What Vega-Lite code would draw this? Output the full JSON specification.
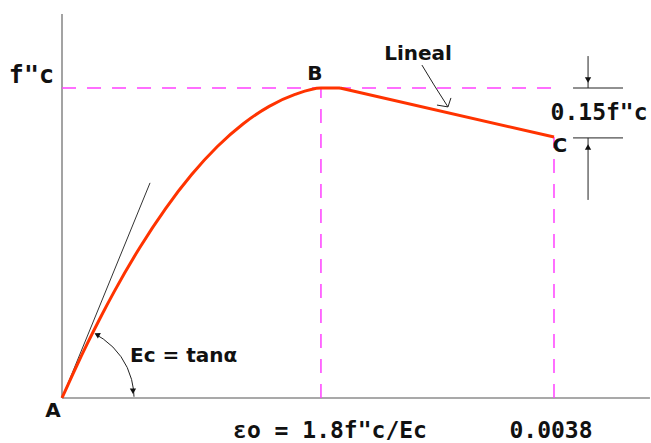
{
  "$schema": "https://vega.github.io/schema/vega-lite/v6.json",
  "width": 651,
  "height": 443,
  "autosize": {"type": "none"},
  "padding": 0,
  "background": "white",
  "config": {"view": {"stroke": null}},
  "datasets": {
    "axes": [
      {"g": "y", "i": 0, "x": 0, "y": 0},
      {"g": "y", "i": 1, "x": 0, "y": 1.239},
      {"g": "x", "i": 0, "x": 0, "y": 0},
      {"g": "x", "i": 1, "x": 4.541, "y": 0}
    ],
    "guides": [
      {"g": "h", "i": 0, "x": 0, "y": 1},
      {"g": "h", "i": 1, "x": 3.82, "y": 1},
      {"g": "v1", "i": 0, "x": 2.0, "y": 0},
      {"g": "v1", "i": 1, "x": 2.0, "y": 1},
      {"g": "v2", "i": 0, "x": 3.8, "y": 0},
      {"g": "v2", "i": 1, "x": 3.8, "y": 0.842}
    ],
    "tangent": [
      {"g": "t", "i": 0, "x": 0, "y": 0},
      {"g": "t", "i": 1, "x": 0.68, "y": 0.694}
    ],
    "curve": [
      {"i": 0, "x": 0, "y": 0},
      {"i": 1, "x": 0.1, "y": 0.0918},
      {"i": 2, "x": 0.2, "y": 0.1792},
      {"i": 3, "x": 0.3, "y": 0.2622},
      {"i": 4, "x": 0.4, "y": 0.3408},
      {"i": 5, "x": 0.6, "y": 0.4848},
      {"i": 6, "x": 0.8, "y": 0.6112},
      {"i": 7, "x": 1.0, "y": 0.72},
      {"i": 8, "x": 1.2, "y": 0.8112},
      {"i": 9, "x": 1.4, "y": 0.8848},
      {"i": 10, "x": 1.6, "y": 0.9408},
      {"i": 11, "x": 1.8, "y": 0.9792},
      {"i": 12, "x": 2.0, "y": 1.0},
      {"i": 13, "x": 2.147, "y": 1.0}
    ],
    "linear": [
      {"i": 0, "x": 2.147, "y": 1.0},
      {"i": 1, "x": 3.8, "y": 0.842}
    ],
    "ann": [
      {"g": "ls", "i": 0, "x": 2.78, "y": 1.074},
      {"g": "ls", "i": 1, "x": 2.873, "y": 1.01},
      {"g": "ls", "i": 2, "x": 2.981, "y": 0.939},
      {"g": "lh", "i": 0, "x": 2.896, "y": 0.945},
      {"g": "lh", "i": 1, "x": 2.981, "y": 0.939},
      {"g": "lh", "i": 2, "x": 3.004, "y": 0.968},
      {"g": "arc", "i": 0, "x": 0.2611, "y": 0.2051},
      {"g": "arc", "i": 1, "x": 0.319, "y": 0.1903},
      {"g": "arc", "i": 2, "x": 0.3932, "y": 0.1643},
      {"g": "arc", "i": 3, "x": 0.4556, "y": 0.1332},
      {"g": "arc", "i": 4, "x": 0.504, "y": 0.0982},
      {"g": "arc", "i": 5, "x": 0.5371, "y": 0.0601},
      {"g": "arc", "i": 6, "x": 0.5519, "y": 0.0283},
      {"g": "arc", "i": 7, "x": 0.556, "y": 0.0041},
      {"g": "d1", "i": 0, "x": 4.063, "y": 1.103},
      {"g": "d1", "i": 1, "x": 4.063, "y": 1.0},
      {"g": "d2", "i": 0, "x": 4.063, "y": 0.839},
      {"g": "d2", "i": 1, "x": 4.063, "y": 0.639},
      {"g": "e1", "i": 0, "x": 3.947, "y": 1.0},
      {"g": "e1", "i": 1, "x": 4.333, "y": 1.0},
      {"g": "e2", "i": 0, "x": 3.947, "y": 0.839},
      {"g": "e2", "i": 1, "x": 4.333, "y": 0.839}
    ],
    "tri": [
      {"x": 4.063, "y": 1.026, "a": 180},
      {"x": 4.063, "y": 0.81, "a": 0},
      {"x": 0.548, "y": 0.022, "a": 180},
      {"x": 0.27, "y": 0.205, "a": 298}
    ],
    "sans": [
      {"t": "B", "x": 1.954, "y": 1.026},
      {"t": "Lineal", "x": 2.75, "y": 1.09},
      {"t": "C", "x": 3.846, "y": 0.794},
      {"t": "A", "x": -0.0695, "y": -0.0613}
    ],
    "sansleft": [
      {"t": "Ec = tanα", "x": 0.525, "y": 0.116}
    ],
    "mono": [
      {"t": "0.15f\"c", "x": 4.148, "y": 0.897}
    ],
    "fc": [
      {"t": "f\"c", "x": -0.236, "y": 1.016}
    ],
    "bottom": [
      {"t": "εo = 1.8f\"c/Ec", "x": 2.07, "y": -0.1452},
      {"t": "0.0038", "x": 3.777, "y": -0.1452}
    ]
  },
  "encoding": {
    "x": {"field": "x", "type": "quantitative", "axis": null, "scale": {"domain": [-0.4789, 4.5492], "nice": false, "zero": false}},
    "y": {"field": "y", "type": "quantitative", "axis": null, "scale": {"domain": [-0.1452, 1.2839], "nice": false, "zero": false}}
  },
  "layer": [
    {
      "data": {"name": "axes"},
      "mark": {"type": "line", "color": "#8c8c8c", "strokeWidth": 1.6},
      "encoding": {"detail": {"field": "g"}, "order": {"field": "i"}}
    },
    {
      "data": {"name": "guides"},
      "mark": {"type": "line", "color": "#ff40ff", "strokeWidth": 1.5, "strokeDash": [14, 11]},
      "encoding": {"detail": {"field": "g"}, "order": {"field": "i"}}
    },
    {
      "data": {"name": "tangent"},
      "mark": {"type": "line", "color": "#333333", "strokeWidth": 1},
      "encoding": {"detail": {"field": "g"}, "order": {"field": "i"}}
    },
    {
      "data": {"name": "curve"},
      "mark": {"type": "line", "color": "#ff3300", "strokeWidth": 3, "interpolate": "monotone"},
      "encoding": {"order": {"field": "i"}}
    },
    {
      "data": {"name": "linear"},
      "mark": {"type": "line", "color": "#ff3300", "strokeWidth": 3},
      "encoding": {"order": {"field": "i"}}
    },
    {
      "data": {"name": "ann"},
      "mark": {"type": "line", "color": "#222222", "strokeWidth": 1},
      "encoding": {"detail": {"field": "g"}, "order": {"field": "i"}}
    },
    {
      "data": {"name": "tri"},
      "mark": {"type": "point", "shape": "triangle-up", "filled": true, "color": "#111111", "size": 40, "opacity": 1},
      "encoding": {"angle": {"field": "a", "type": "quantitative", "scale": null}}
    },
    {
      "data": {"name": "sans"},
      "mark": {"type": "text", "font": "DejaVu Sans", "fontWeight": "bold", "fontSize": 20, "baseline": "alphabetic", "align": "center", "color": "#111111"},
      "encoding": {"text": {"field": "t"}}
    },
    {
      "data": {"name": "sansleft"},
      "mark": {"type": "text", "font": "DejaVu Sans", "fontWeight": "bold", "fontSize": 20, "baseline": "alphabetic", "align": "left", "color": "#111111"},
      "encoding": {"text": {"field": "t"}}
    },
    {
      "data": {"name": "mono"},
      "mark": {"type": "text", "font": "DejaVu Sans Mono", "fontWeight": "bold", "fontSize": 23, "baseline": "alphabetic", "align": "center", "color": "#111111"},
      "encoding": {"text": {"field": "t"}}
    },
    {
      "data": {"name": "fc"},
      "mark": {"type": "text", "font": "DejaVu Sans Mono", "fontWeight": "bold", "fontSize": 25, "baseline": "alphabetic", "align": "center", "color": "#111111"},
      "encoding": {"text": {"field": "t"}}
    },
    {
      "data": {"name": "bottom"},
      "mark": {"type": "text", "font": "DejaVu Sans Mono", "fontWeight": "bold", "fontSize": 23, "baseline": "bottom", "align": "center", "color": "#111111"},
      "encoding": {"text": {"field": "t"}}
    }
  ]
}
